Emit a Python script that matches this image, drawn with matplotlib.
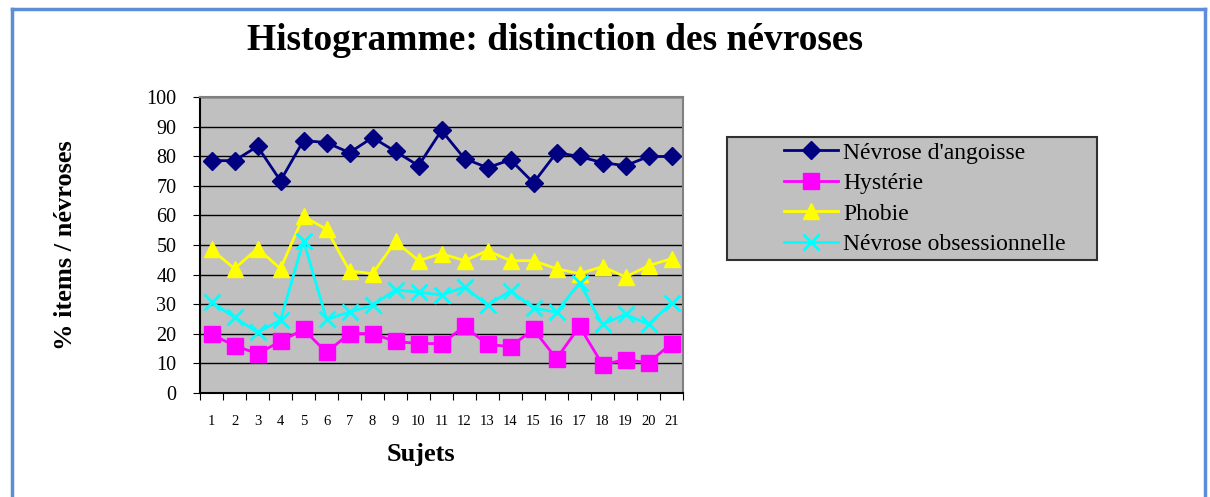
import matplotlib.pyplot as plt
from matplotlib.lines import Line2D
from matplotlib.patches import Rectangle

plt.rcParams['font.family'] = ['Liberation Serif', 'DejaVu Serif']

sujets = list(range(1, 22))
angoisse = [78.5, 78.5, 83.3, 71.7, 85.3, 84.6, 81.2, 86.3, 81.6, 76.8, 88.7,
            79.2, 76.1, 78.8, 71.0, 81.2, 79.9, 77.8, 76.8, 79.9, 79.9]
hysterie = [19.8, 16.0, 13.3, 17.4, 21.5, 13.7, 20.1, 20.1, 17.4, 16.7, 16.7,
            22.5, 16.4, 15.7, 21.5, 11.6, 22.5, 9.6, 11.3, 10.2, 16.7]
phobie = [48.5, 42.0, 48.8, 42.0, 59.7, 55.3, 41.3, 40.3, 51.2, 44.7, 47.1,
          44.7, 48.1, 44.7, 44.7, 42.0, 40.3, 42.7, 39.2, 43.0, 45.4]
obsession = [30.7, 25.6, 20.5, 24.6, 51.5, 24.9, 27.3, 29.7, 34.8, 34.1, 33.1,
             35.8, 29.7, 34.5, 28.7, 27.3, 37.2, 23.2, 26.6, 23.2, 30.4]

W, H = 1210, 497
fig = plt.figure(figsize=(W / 100, H / 100), dpi=100)

# blue frame around the figure
frame_color = '#5B8DD9'
fig.add_artist(Line2D([12 / W, 12 / W], [0, 1 - 9 / H], color=frame_color, lw=2.5,
                      transform=fig.transFigure))
fig.add_artist(Line2D([12 / W, 1205 / W], [1 - 9 / H, 1 - 9 / H], color=frame_color,
                      lw=2.5, transform=fig.transFigure))
fig.add_artist(Line2D([1205 / W, 1205 / W], [0, 1 - 9 / H], color=frame_color, lw=2.5,
                      transform=fig.transFigure))

ax = fig.add_axes([200 / W, 1 - 393 / H, 483 / W, 296 / H])
ax.set_facecolor('#C0C0C0')

ax.plot(sujets, angoisse, color='#000080', marker='D', markersize=9, lw=2,
        label="Névrose d'angoisse")
ax.plot(sujets, hysterie, color='#FF00FF', marker='s', markersize=11, lw=2,
        label='Hystérie')
ax.plot(sujets, phobie, color='#FFFF00', marker='^', markersize=11, lw=2,
        label='Phobie')
ax.plot(sujets, obsession, color='#00FFFF', marker='x', markersize=11, lw=2,
        markeredgewidth=2, label='Névrose obsessionnelle')

ax.set_xlim(0.5, 21.5)
ax.set_ylim(0, 100)
ax.set_yticks(range(0, 101, 10))
ax.yaxis.grid(True, color='black', lw=1)
ax.set_axisbelow(True)
ax.set_xticks([i + 0.5 for i in range(0, 21)] + [21.5])
ax.set_xticklabels([])
ax.set_xticks(sujets, minor=True)
ax.set_xticklabels([str(s) for s in sujets], minor=True, fontsize=10.5)
ax.tick_params(axis='x', which='minor', length=0, pad=16)
ax.tick_params(axis='x', which='major', length=5, direction='out')
ax.tick_params(axis='y', length=5, direction='out', labelsize=14.5, pad=12)
for side in ['top', 'right']:
    ax.spines[side].set_color('#808080')
    ax.spines[side].set_linewidth(1.5)
ax.spines['left'].set_linewidth(1.5)
ax.spines['bottom'].set_linewidth(1.5)

ax.set_xlabel('Sujets', fontsize=19, fontweight='bold')
ax.xaxis.set_label_coords((421 - 200) / 483, -(454 - 393) / 296)
ax.xaxis.label.set_va('center')
ax.set_ylabel('% items / névroses', fontsize=19, fontweight='bold')
ax.yaxis.set_label_coords((66 - 200) / 483, 0.5)
ax.yaxis.label.set_va('center')

fig.text(555 / W, 1 - 40 / H, 'Histogramme: distinction des névroses', ha='center',
         va='center', fontsize=27, fontweight='bold')

# legend box drawn separately, entries placed inside
fig.add_artist(Rectangle((727 / W, 1 - 260 / H), 370 / W, 123 / H,
                         transform=fig.transFigure, facecolor='#C0C0C0',
                         edgecolor='#303030', lw=1.5, zorder=1))
leg = fig.legend(loc='upper left', bbox_to_anchor=(784 / W, 1 - 142 / H), fontsize=17,
                 frameon=False, borderaxespad=0, handlelength=2.3,
                 borderpad=0, labelspacing=0.38, handletextpad=0.2)
leg.set_zorder(2)

fig.savefig('out.png', dpi=100)
